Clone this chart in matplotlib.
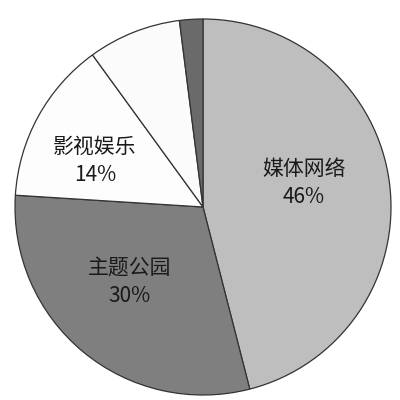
import matplotlib.pyplot as plt

plt.rcParams['font.family'] = ['Noto Sans CJK SC', 'DejaVu Sans']

names = ['媒体网络', '主题公园', '影视娱乐', '', '']
shares = [46, 30, 14, 8, 2]
colors = ['#bebebe', '#7f7f7f', '#fdfdfd', '#fbfbfb', '#6a6a6a']

fig = plt.figure(figsize=(4, 4), dpi=100)
ax = fig.add_axes([0, 0, 1, 1])
wedges, _ = ax.pie(shares, colors=colors, startangle=90, counterclock=False,
                   radius=1.0, wedgeprops=dict(edgecolor='#333333', linewidth=0.9))

# label placement in axis units
label_pos = {'媒体网络': (0.537, 0.128), '主题公园': (-0.39, -0.40), '影视娱乐': (-0.575, 0.245)}
for n, s in zip(names, shares):
    if n:
        x, y = label_pos[n]
        ax.text(x, y, f'{n}\n{s}%', ha='center', va='center', fontsize=15,
                color='#1a1a1a', linespacing=1.35)

ax.set_xlim(-203 / 188, 197 / 188)
ax.set_ylim(-193 / 188, 207 / 188)
ax.set_aspect('auto')
ax.axis('off')
fig.savefig('out.png', dpi=100, facecolor='white')
